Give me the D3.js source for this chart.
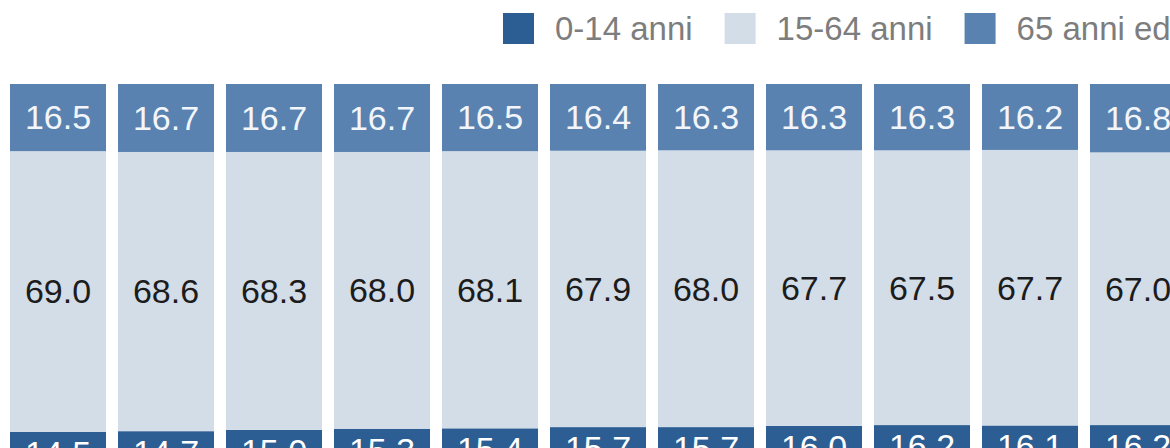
<!DOCTYPE html>
<html>
<head>
<meta charset="utf-8">
<script src="https://cdn.jsdelivr.net/npm/d3@7"></script>
<style>
  body { margin: 0; background: #fff; overflow: hidden; }
  svg { display: block; font-family: "Liberation Sans", Arial, sans-serif; }
</style>
</head>
<body>
<svg id="chart"></svg>
<script>
// bars visible in the crop (x labels fall below the picture)
var categories = ["1", "2", "3", "4", "5", "6", "7", "8", "9", "10", "11"];
var seriesNames = ["0-14 anni", "15-64 anni", "65 anni ed oltre"];
var anni0_14  = [14.5, 14.7, 15.0, 15.3, 15.4, 15.7, 15.7, 16.0, 16.2, 16.1, 16.2];
var anni15_64 = [69.0, 68.6, 68.3, 68.0, 68.1, 67.9, 68.0, 67.7, 67.5, 67.7, 67.0];
var anni65    = [16.5, 16.7, 16.7, 16.7, 16.5, 16.4, 16.3, 16.3, 16.3, 16.2, 16.8];

var colors = ["#2d5e93", "#d3dde8", "#5a82b0"];
var labelColors = ["#ffffff", "#1c1c1c", "#f2f6fb"];

var W = 1170, H = 448;
var svg = d3.select("#chart").attr("width", W).attr("height", H);

var rows = categories.map(function (c, i) {
  return { cat: c, s0: anni0_14[i], s1: anni15_64[i], s2: anni65[i] };
});
var stack = d3.stack().keys(["s0", "s1", "s2"]);
var layers = stack(rows);

var x = d3.scaleBand()
  .domain(categories)
  .range([10, 1186])
  .paddingInner(0.111)
  .paddingOuter(0);

var y = d3.scaleLinear().domain([0, 100]).range([491, 84]);

var g = svg.selectAll(".layer")
  .data(layers)
  .enter()
  .append("g")
  .attr("class", "layer")
  .attr("fill", function (d, i) { return colors[i]; });

g.selectAll("rect")
  .data(function (d) { return d; })
  .enter()
  .append("rect")
  .attr("x", function (d) { return x(d.data.cat); })
  .attr("width", x.bandwidth())
  .attr("y", function (d) { return y(d[1]); })
  .attr("height", function (d) { return y(d[0]) - y(d[1]); });

// value labels
g.selectAll("text")
  .data(function (d, i) { return d.map(function (p) { return { p: p, s: i }; }); })
  .enter()
  .append("text")
  .attr("x", function (d) { return x(d.p.data.cat) + x.bandwidth() / 2; })
  .attr("y", function (d) {
    var mid = (y(d.p[0]) + y(d.p[1])) / 2;
    // bottom labels sit near the top of their segment
    return d.s === 0 ? y(d.p[1]) + 21 : mid;
  })
  .attr("dy", "0.35em")
  .attr("text-anchor", "middle")
  .attr("font-size", 34)
  .attr("fill", function (d) { return labelColors[d.s]; })
  .text(function (d) { return (d.p[1] - d.p[0]).toFixed(1); });

// legend
var legend = svg.append("g").attr("class", "legend");
var lx = 503;
seriesNames.forEach(function (name, i) {
  legend.append("rect")
    .attr("x", lx).attr("y", 13)
    .attr("width", 31).attr("height", 31)
    .attr("fill", colors[i]);
  var t = legend.append("text")
    .attr("x", lx + 52).attr("y", 40)
    .attr("font-size", 33)
    .attr("fill", "#7d7d7d")
    .text(name);
  lx += 52 + t.node().getComputedTextLength() + 32;
});
</script>
</body>
</html>
